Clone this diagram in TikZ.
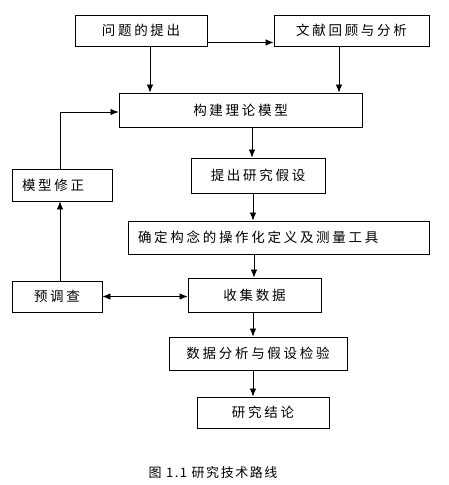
\documentclass[tikz,border=0pt]{standalone}
\usepackage{fontspec}
\setmainfont{Noto Sans CJK SC}
\newfontfamily\boxfont[LetterSpace=20]{Noto Sans CJK SC}
\newfontfamily\capfont[LetterSpace=12]{Noto Sans CJK SC}
\usetikzlibrary{arrows.meta,shadows}
\begin{document}
\begin{tikzpicture}[x=1pt,y=-1pt,
  box/.style={draw, line width=0.9pt, fill=white, rectangle, inner sep=0pt,
    font=\boxfont\fontsize{13.5}{16}\selectfont,
    drop shadow={shadow xshift=0.9pt, shadow yshift=-0.9pt, opacity=1, fill=black}},
  leftbox/.style={box, inner xsep=10pt, align=left},
  arr/.style={line width=0.8pt, -{Latex[length=8pt,width=6.5pt]}},
  darr/.style={line width=0.8pt, {Latex[length=8pt,width=6.5pt]}-{Latex[length=8pt,width=6.5pt]}}]
\useasboundingbox (0,0) rectangle (449,485);
\node[box, minimum width=132pt, minimum height=31pt] (p1) at (141,30.5) {问题的提出};
\node[box, minimum width=155pt, minimum height=31pt] (p2) at (351.5,30.5) {文献回顾与分析};
\node[box, minimum width=243pt, minimum height=34pt] (p3) at (240.5,110) {构建理论模型};
\node[box, minimum width=134pt, minimum height=35pt] (p4) at (258,175.5) {提出研究假设};
\node[leftbox, text width=281pt, minimum height=33pt] (p5) at (278.5,237.5) {确定构念的操作化定义及测量工具};
\node[box, minimum width=133pt, minimum height=34pt] (p6) at (254.5,295) {收集数据};
\node[box, minimum width=90pt, minimum height=31pt] (p7) at (57,296.5) {预调查};
\node[leftbox, text width=80pt, minimum height=32pt] (p8) at (62,185) {模型修正};
\node[box, minimum width=178pt, minimum height=33pt] (p9) at (258,353.5) {数据分析与假设检验};
\node[box, minimum width=132pt, minimum height=31pt] (p10) at (263,412.5) {研究结论};
\node[font=\capfont\fontsize{13}{15}\selectfont] (cap) at (213,473) {图\ 1.1\ 研究技术路线};

\draw[arr] ([yshift=4pt]p1.south east) -- ([yshift=4pt]p1.south east -| p2.west);
\draw[arr] ([xshift=9pt]p1.south) -- ([xshift=9pt]p1.south |- p3.north);
\draw[arr] ([xshift=-12.5pt]p2.south) -- ([xshift=-12.5pt]p2.south |- p3.north);
\draw[arr] ([xshift=11.5pt]p3.south) -- ([xshift=11.5pt]p3.south |- p4.north);
\draw[arr] ([xshift=-5pt]p4.south) -- ([xshift=-5pt]p4.south |- p5.north);
\draw[arr] ([xshift=-24.5pt]p5.south) -- ([xshift=-24.5pt]p5.south |- p6.north);
\draw[arr] ([xshift=-1.5pt]p6.south) -- ([xshift=-1.5pt]p6.south |- p9.north);
\draw[arr] ([xshift=-5pt]p9.south) -- ([xshift=-5pt]p9.south |- p10.north);
\draw[darr] (p7.east) -- (p7.east -| p6.west);
\draw[arr] ([xshift=3pt]p7.north) -- ([xshift=3pt]p7.north |- p8.south);
\draw[arr] ([xshift=-2pt]p8.north) |- ([yshift=-2pt]p3.west);
\end{tikzpicture}
\end{document}
